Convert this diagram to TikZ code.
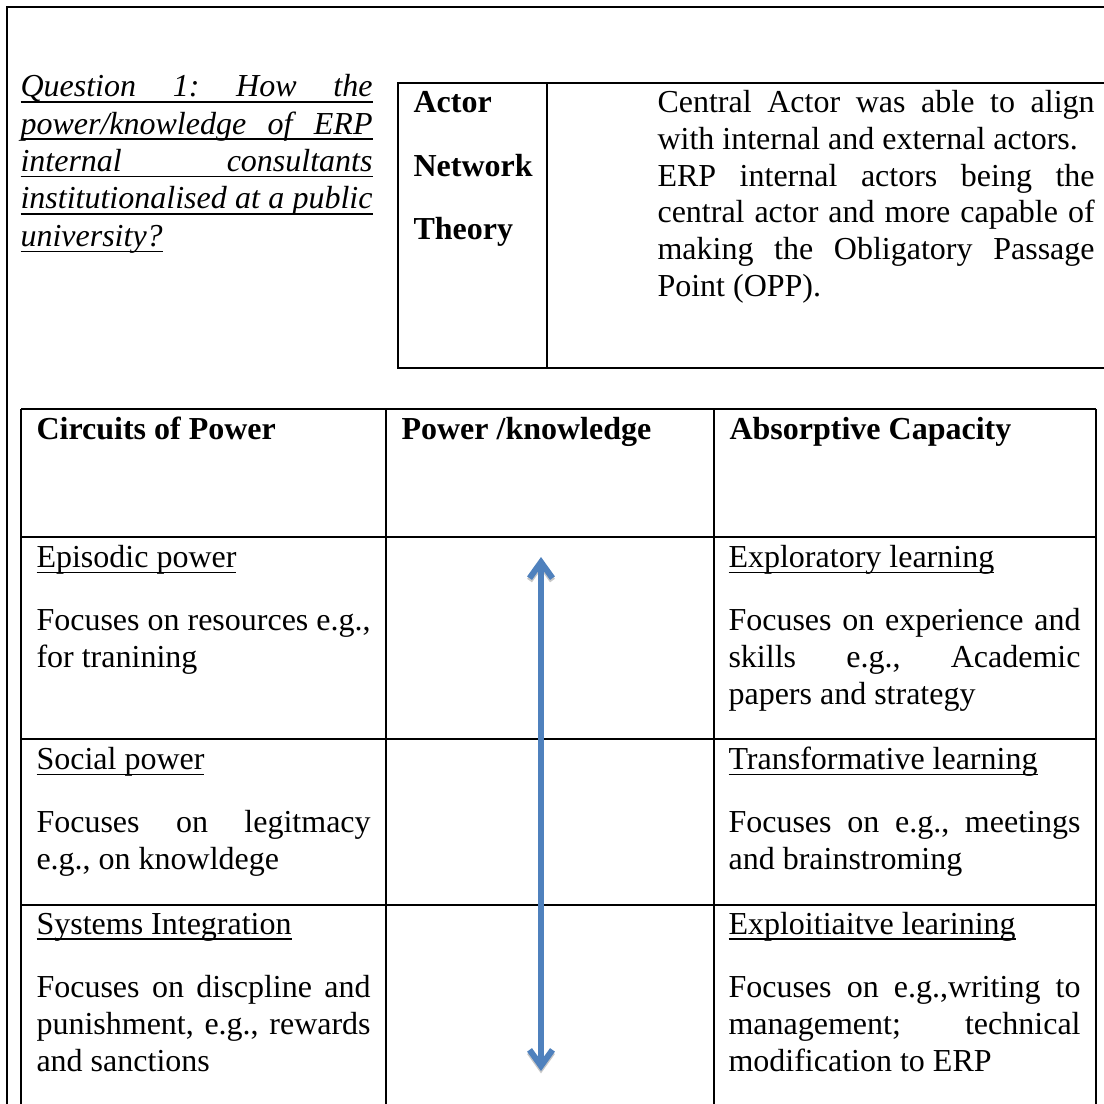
\documentclass[tikz,border=0pt]{standalone}
\usepackage{fontspec}
\setmainfont{Liberation Serif}
\usetikzlibrary{arrows.meta}
\setlength{\parindent}{0pt}
\tolerance=10000
\hbadness=10000
\frenchspacing
\definecolor{arrowblue}{RGB}{79,129,189}
\newlength\ulwidth
\newcommand\ulword[1]{\settowidth\ulwidth{#1}\rlap{\rule[-2.2pt]{\ulwidth}{0.6pt}}#1}
\newcommand\qline[1]{\ulword{\hbox to 132pt{#1}}}
\tikzset{
  x=0.375pt, y=-0.375pt,
  frame line/.style={line width=0.75pt},
  grid line/.style={line width=0.7pt},
  plain text/.style={anchor=base west, inner sep=0pt, font=\fontsize{12}{13.8}\selectfont},
  question line/.style={plain text, font=\fontsize{12}{13.8}\selectfont\itshape},
  head text/.style={plain text, font=\fontsize{12}{13.8}\selectfont\bfseries},
  cell text/.style={anchor=north west, inner sep=0pt, text width=#1, align=justify,
    font=\fontsize{12}{13.8}\selectfont},
  power arrow/.style={line width=2.25pt, draw=arrowblue, line cap=round,
    {Straight Barb[length=6pt,width=8.6pt]}-{Straight Barb[length=6pt,width=8.6pt]}},
}

\begin{document}
\begin{tikzpicture}
\useasboundingbox (0,0) rectangle (1104,1104);
\clip (0,0) rectangle (1104,1104);

% outer frame
\draw[frame line] (7,7) rectangle (1120,1120);

% question
\node[question line] (q1) at (20,96.7) {\qline{Question 1: How the}};
\node[question line] (q2) at (20,134.1) {\qline{power/knowledge of ERP}};
\node[question line] (q3) at (20,171.5) {\qline{internal consultants}};
\node[question line] (q4) at (20,208.9) {\qline{institutionalised at a public}};
\node[question line] (q5) at (20,246.3) {\ulword{university?}};

% actor network theory box
\draw[grid line] (1112,83) -- (398,83) -- (398,368) -- (1112,368);
\draw[grid line] (547,83) -- (547,368);
\node[head text] (ant1) at (413,113) {Actor};
\node[head text] (ant2) at (413,176.5) {Network};
\node[head text] (ant3) at (413,240) {Theory};
\node[cell text=163.9pt] (antdesc) at (657,86.2) {\strut Central Actor was able to align\linebreak
  with internal and external actors.\par
  ERP internal actors being the\linebreak central actor and more capable of\linebreak
  making the Obligatory Passage\linebreak Point (OPP).};

% main table
\foreach \y in {409,537,739,905}
  \draw[grid line] (21,\y) -- (1096,\y);
\foreach \x in {21,386,714,1096}
  \draw[grid line] (\x,409) -- (\x,1120);

\node[head text] (hcop) at (36,439) {Circuits of Power};
\node[head text] (hpk) at (401,439) {Power /knowledge};
\node[head text] (hac) at (729,439) {Absorptive Capacity};

% circuits of power
\node[cell text=125.3pt] (episodic) at (36,541.2) {\strut\ulword{Episodic power}\par\vspace{10pt}
  Focuses on resources e.g.,\linebreak for tranining};
\node[cell text=125.3pt] (social) at (36,743.2) {\strut\ulword{Social power}\par\vspace{10pt}
  Focuses on legitmacy\linebreak e.g., on knowldege};
\node[cell text=125.3pt] (systems) at (36,907.7) {\strut\ulword{Systems Integration}\par\vspace{10pt}
  Focuses on discpline and\linebreak punishment, e.g., rewards\linebreak and sanctions};

% absorptive capacity
\node[cell text=132pt] (explor) at (728,541.2) {\strut\ulword{Exploratory learning}\par\vspace{10pt}
  Focuses on experience and\linebreak skills e.g., Academic\linebreak papers and strategy};
\node[cell text=132pt] (transf) at (728,743.2) {\strut\ulword{Transformative learning}\par\vspace{10pt}
  Focuses on e.g., meetings\linebreak and brainstroming};
\node[cell text=132pt] (exploit) at (728,907.7) {\strut\ulword{Exploitiaitve learining}\par\vspace{10pt}
  Focuses on e.g.,writing to\linebreak management; technical\linebreak modification to ERP};

% power/knowledge arrow
\coordinate (pktop) at (541,557);
\coordinate (pkbot) at (541,1071);
\draw[power arrow, draw=black!22] ([yshift=-0.9pt]pktop) -- ([yshift=-0.9pt]pkbot);
\draw[power arrow] (pktop) -- (pkbot);
\end{tikzpicture}
\end{document}
